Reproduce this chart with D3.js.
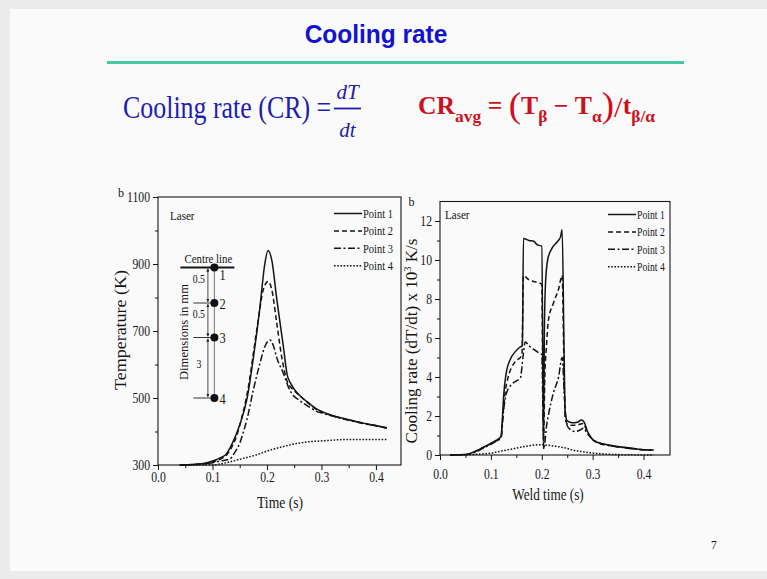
<!DOCTYPE html>
<html>
<head>
<meta charset="utf-8">
<script src="https://cdn.jsdelivr.net/npm/d3@7"></script>
<style>
body { margin: 0; background: #fff; }
svg text { font-family: "Liberation Serif", "Times New Roman", serif; fill: #161616; }
</style>
</head>
<body>
<script>
// ---- data ----
var seriesNames = ["Point 1", "Point 2", "Point 3", "Point 4"];

// left chart: temperature (K) vs time (s)
var timeP1 = [0.04,0.07,0.09,0.10,0.115,0.126,0.135,0.144,0.150,0.163,0.175,0.187,0.196,0.202,0.209,0.218,0.230,0.237,0.243,0.254,0.265,0.279,0.290,0.303,0.320,0.346,0.377,0.400,0.420];
var tempP1 = [300,302,307,312,322,334,360,393,420,495,620,770,900,940,910,795,655,570,545,518,500,482,468,458,448,437,425,418,411];
var timeP2 = [0.04,0.09,0.10,0.115,0.126,0.135,0.145,0.155,0.166,0.175,0.184,0.193,0.202,0.209,0.218,0.227,0.237,0.245,0.254,0.265,0.279,0.290,0.303,0.320,0.346,0.377,0.400,0.420];
var tempP2 = [300,305,309,318,330,352,390,450,534,633,733,822,848,822,723,623,550,530,516,500,480,467,457,447,436,424,417,410];
var timeP3 = [0.04,0.09,0.10,0.115,0.132,0.140,0.150,0.157,0.163,0.175,0.187,0.196,0.2055,0.212,0.218,0.230,0.239,0.248,0.258,0.267,0.279,0.291,0.303,0.320,0.346,0.377,0.400,0.420];
var tempP3 = [300,304,307,312,318,335,365,400,434,524,603,653,673,655,620,574,534,508,495,484,472,460,454,446,435,424,417,410];
var timeP4 = [0.04,0.10,0.12,0.15,0.18,0.205,0.23,0.254,0.275,0.291,0.32,0.34,0.38,0.42];
var tempP4 = [300,300,305,317,330,344,355,364,369,371,374,376,376,376];

// right chart: cooling rate (x 10^3 K/s) vs weld time (s)
var rTimeP1 = [0.02,0.05,0.07,0.085,0.10,0.11,0.12,0.122,0.125,0.13,0.138,0.148,0.158,0.162,0.164,0.175,0.185,0.19,0.20,0.2035,0.205,0.207,0.2115,0.22,0.231,0.237,0.240,0.244,0.246,0.25,0.26,0.27,0.278,0.283,0.29,0.30,0.315,0.335,0.36,0.39,0.42];
var rateP1  = [0,0.02,0.2,0.4,0.6,0.75,0.95,1.6,3.0,4.2,4.9,5.3,5.55,5.6,11.1,11.0,10.95,10.8,10.7,0.7,6.0,8.6,10.0,10.6,10.95,11.2,11.55,5.0,2.2,1.75,1.65,1.68,1.8,1.7,1.2,0.8,0.6,0.5,0.4,0.3,0.25];
var rTimeP2 = [0.02,0.05,0.07,0.085,0.10,0.11,0.12,0.123,0.127,0.134,0.141,0.151,0.158,0.161,0.164,0.174,0.184,0.197,0.20,0.2035,0.206,0.209,0.213,0.223,0.233,0.240,0.244,0.246,0.25,0.26,0.27,0.281,0.29,0.30,0.315,0.335,0.36,0.39,0.42];
var rateP2  = [0,0.02,0.18,0.38,0.58,0.72,0.9,1.8,3.0,4.0,4.5,4.87,5.0,5.2,9.2,9.0,8.9,8.8,8.75,0.7,4.0,5.5,6.9,7.8,8.5,9.2,4.0,1.9,1.6,1.52,1.54,1.62,1.15,0.78,0.58,0.48,0.38,0.29,0.24];
var rTimeP3 = [0.02,0.05,0.07,0.085,0.10,0.11,0.12,0.125,0.131,0.14,0.15,0.158,0.163,0.1675,0.175,0.185,0.197,0.20,0.204,0.206,0.209,0.2135,0.223,0.233,0.240,0.2445,0.2485,0.256,0.266,0.275,0.282,0.287,0.296,0.31,0.33,0.36,0.39,0.42];
var rateP3  = [0,0.02,0.15,0.35,0.55,0.7,0.88,2.3,3.2,3.6,3.8,3.95,5.0,5.8,5.6,5.4,5.2,5.15,0.3,0.6,1.4,2.1,3.2,4.0,5.0,3.0,1.6,1.3,1.2,1.28,1.37,1.2,0.9,0.65,0.5,0.38,0.29,0.24];
var rTimeP4 = [0.02,0.06,0.08,0.10,0.12,0.14,0.17,0.197,0.223,0.245,0.262,0.28,0.30,0.33,0.37,0.42];
var rateP4  = [0,0.02,0.05,0.1,0.2,0.3,0.45,0.53,0.46,0.37,0.25,0.17,0.1,0.04,0.01,0];

var timeTicks = [0, 0.1, 0.2, 0.3, 0.4];
var timeMinor = [0.05, 0.15, 0.25, 0.35];
var tempTicks = [300, 500, 700, 900, 1100];
var tempMinor = [400, 600, 800, 1000];
var rateTicks = [0, 2, 4, 6, 8, 10, 12];
var rateMinor = [1, 3, 5, 7, 9, 11];

// inset sketch: depth of the four points below the centre line (mm)
var insetDepth = [0, 0.5, 1, 4];
var insetNames = ["1", "2", "3", "4"];
var insetGaps = ["0.5", "0.5", "3"];

var dashes = [null, "5,3", "7,2.5,2,2.5", "1.6,1.6"];

// ---- page ----
var svg = d3.select("body").append("svg")
  .attr("width", 767)
  .attr("height", 579);

svg.append("rect").attr("width", 767).attr("height", 579).attr("fill", "#ececec");
svg.append("rect").attr("x", 10).attr("y", 9).attr("width", 757).attr("height", 562).attr("fill", "#fafafa");

function label(parent, str, x, y, size, k, anchor) {
  return parent.append("text")
    .attr("transform", "translate(" + x + "," + y + ") scale(" + k + ",1)")
    .attr("font-size", size)
    .attr("text-anchor", anchor || "start")
    .text(str);
}

// title and rule
label(svg, "Cooling rate", 376, 43, 25.5, 0.96, "middle")
  .attr("font-weight", "bold")
  .style("font-family", "'Liberation Sans', Arial, sans-serif")
  .style("fill", "#1212cf");

svg.append("line")
  .attr("x1", 107).attr("x2", 684).attr("y1", 62.5).attr("y2", 62.5)
  .attr("stroke", "#45c9a3").attr("stroke-width", 3);

// blue definition
var blue = "#1e1eae";
label(svg, "Cooling rate (CR) =", 123, 118, 32, 0.81).style("fill", blue);
svg.append("text").attr("x", 347.5).attr("y", 99).attr("text-anchor", "middle")
  .attr("font-size", 21).attr("font-style", "italic").style("fill", blue).text("dT");
svg.append("line").attr("x1", 334).attr("x2", 361).attr("y1", 108.5).attr("y2", 108.5)
  .attr("stroke", blue).attr("stroke-width", 1.8);
svg.append("text").attr("x", 347.5).attr("y", 137).attr("text-anchor", "middle")
  .attr("font-size", 21).attr("font-style", "italic").style("fill", blue).text("dt");

// red average formula
var red = svg.append("text")
  .attr("x", 418).attr("y", 113.5)
  .attr("font-size", 25).attr("font-weight", "bold")
  .style("fill", "#cc1020")
  .attr("textLength", 237).attr("lengthAdjust", "spacingAndGlyphs");
red.append("tspan").text("CR");
red.append("tspan").attr("font-size", 17).attr("dy", 8).text("avg");
red.append("tspan").attr("dy", -8).text(" = ");
red.append("tspan").attr("font-size", 36).attr("font-weight", "normal").attr("dy", 3).text("(");
red.append("tspan").attr("dy", -3).text("T");
red.append("tspan").attr("font-size", 17).attr("dy", 8).text("β");
red.append("tspan").attr("dy", -8).text(" − T");
red.append("tspan").attr("font-size", 17).attr("dy", 8).text("α");
red.append("tspan").attr("font-size", 36).attr("font-weight", "normal").attr("dy", -5).text(")");
red.append("tspan").attr("font-size", 30).attr("font-weight", "normal").text("/");
red.append("tspan").attr("dy", -3).text("t");
red.append("tspan").attr("font-size", 17).attr("dy", 8).text("β/α");

// page number
label(svg, "7", 714, 549, 13, 0.9, "middle");

// ---- charts ----
function squeezeTicks(g, k) {
  g.selectAll(".tick text").each(function() {
    var t = d3.select(this), x = +t.attr("x") || 0;
    t.attr("x", 0).attr("transform", "translate(" + x + ",0) scale(" + k + ",1)");
  });
}

function drawChart(c) {
  var g = svg.append("g");
  var x = c.x, y = c.y;
  var x0 = x.range()[0], x1 = x.range()[1], y0 = y.range()[0], y1 = y.range()[1];

  var gx = g.append("g").attr("transform", "translate(0," + y0 + ")")
    .call(d3.axisBottom(x).tickValues(timeTicks).tickSize(5).tickPadding(c.xPad)
      .tickFormat(d3.format(".1f")));
  g.append("g").attr("transform", "translate(0," + y0 + ")")
    .call(d3.axisBottom(x).tickValues(timeMinor).tickSize(3).tickFormat(""));
  var gy = g.append("g").attr("transform", "translate(" + x0 + ",0)")
    .call(d3.axisLeft(y).tickValues(c.yTicks).tickSize(5).tickPadding(3)
      .tickFormat(d3.format("d")));
  g.append("g").attr("transform", "translate(" + x0 + ",0)")
    .call(d3.axisLeft(y).tickValues(c.yMinor).tickSize(3).tickFormat(""));

  g.selectAll(".domain").remove();
  g.selectAll(".tick line").attr("stroke", "#161616");
  [gx, gy].forEach(function(a) {
    a.attr("font-family", null).attr("font-size", 15);
    squeezeTicks(a, 0.78);
  });

  g.append("rect")
    .attr("x", x0).attr("y", y1)
    .attr("width", x1 - x0).attr("height", y0 - y1)
    .attr("fill", "none").attr("stroke", "#161616").attr("stroke-width", 1.1);

  var line = d3.line()
    .x(function(d) { return x(d[0]); })
    .y(function(d) { return y(d[1]); })
    .curve(d3.curveMonotoneX);

  c.series.forEach(function(s, i) {
    g.append("path")
      .datum(d3.zip(s[0], s[1]))
      .attr("d", line)
      .attr("fill", "none")
      .attr("stroke", "#141414")
      .attr("stroke-width", 1.5)
      .attr("stroke-dasharray", dashes[i]);
  });

  // legend
  seriesNames.forEach(function(name, i) {
    var ly = c.legY + i * 17.4;
    g.append("line")
      .attr("x1", c.legX).attr("x2", c.legX + 28)
      .attr("y1", ly).attr("y2", ly)
      .attr("stroke", "#141414").attr("stroke-width", 1.5)
      .attr("stroke-dasharray", dashes[i]);
    label(g, name, c.legX + 29, ly + 4.5, 13.5, c.legK);
  });

  label(g, "Laser", c.laserX, c.laserY, 13.5, 0.82);
  label(g, "b", c.bX, c.bY, 13.5, 0.9);
  return g;
}

var xL = d3.scaleLinear().domain([0, 0.446]).range([158, 401]);
var yL = d3.scaleLinear().domain([300, 1100]).range([465, 197]);
var xR = d3.scaleLinear().domain([0, 0.452]).range([440, 670]);
var yR = d3.scaleLinear().domain([0, 13]).range([455, 201.5]);

var left = drawChart({
  x: xL, y: yL, yTicks: tempTicks, yMinor: tempMinor, xPad: 1,
  series: [[timeP1, tempP1], [timeP2, tempP2], [timeP3, tempP3], [timeP4, tempP4]],
  legX: 334, legY: 213.5, legK: 0.78,
  laserX: 170, laserY: 219.5, bX: 118, bY: 197
});

var right = drawChart({
  x: xR, y: yR, yTicks: rateTicks, yMinor: rateMinor, xPad: 8,
  series: [[rTimeP1, rateP1], [rTimeP2, rateP2], [rTimeP3, rateP3], [rTimeP4, rateP4]],
  legX: 608, legY: 214.5, legK: 0.72,
  laserX: 445, laserY: 218.5, bX: 408.5, bY: 206
});

// axis titles
label(left, "Time (s)", 280, 508, 17, 0.8, "middle");
label(right, "Weld time (s)", 548, 499.5, 16.5, 0.8, "middle");

left.append("text")
  .attr("transform", "translate(126,330) rotate(-90)")
  .attr("text-anchor", "middle")
  .attr("font-size", 17.5)
  .attr("textLength", 120).attr("lengthAdjust", "spacingAndGlyphs")
  .text("Temperature (K)");

var rt = right.append("text")
  .attr("transform", "translate(417,341) rotate(-90)")
  .attr("text-anchor", "middle")
  .attr("font-size", 16.5)
  .attr("textLength", 205).attr("lengthAdjust", "spacingAndGlyphs");
rt.append("tspan").text("Cooling rate (dT/dt) x 10");
rt.append("tspan").attr("font-size", 10).attr("dy", -6).text("3");
rt.append("tspan").attr("dy", 6).text(" K/s");

// ---- inset sketch (schematic, not to scale) ----
var depthY = d3.scaleLinear().domain(insetDepth).range([267.5, 303, 337.5, 398]);
var dotX = xL(0.1035), dimX = dotX - 6.5;
var ins = left.append("g");

svg.append("defs").append("marker")
  .attr("id", "arr").attr("viewBox", "0 0 6 6").attr("refX", 6).attr("refY", 3)
  .attr("markerWidth", 4).attr("markerHeight", 4).attr("orient", "auto-start-reverse")
  .append("path").attr("d", "M0,0L6,3L0,6Z").attr("fill", "#222");

ins.append("line")
  .attr("x1", dotX).attr("x2", dotX)
  .attr("y1", depthY(0)).attr("y2", depthY(4))
  .attr("stroke", "#8a8a8a").attr("stroke-width", 1.2);

ins.append("line")
  .attr("x1", dotX - 34).attr("x2", dotX + 20)
  .attr("y1", depthY(0)).attr("y2", depthY(0))
  .attr("stroke", "#161616").attr("stroke-width", 2);
label(ins, "Centre line", dotX - 6, depthY(0) - 5, 13.5, 0.8, "middle");

insetDepth.slice(1).forEach(function(d) {
  ins.append("line")
    .attr("x1", dotX - 21).attr("x2", dotX)
    .attr("y1", depthY(d)).attr("y2", depthY(d))
    .attr("stroke", "#333").attr("stroke-width", 1);
});

insetDepth.slice(1).forEach(function(d, i) {
  var a = depthY(insetDepth[i]) + 1, b = depthY(d) - 1;
  ins.append("line")
    .attr("x1", dimX).attr("x2", dimX).attr("y1", a).attr("y2", b)
    .attr("stroke", "#222").attr("stroke-width", 0.8)
    .attr("marker-start", "url(#arr)").attr("marker-end", "url(#arr)");
  label(ins, insetGaps[i], dimX - 9, (a + b) / 2 + (i < 2 ? -2 : 0), 11.5, 0.85, "middle");
});

ins.selectAll("circle.pt")
  .data(insetDepth)
  .enter().append("circle")
  .attr("cx", dotX).attr("cy", function(d) { return depthY(d); })
  .attr("r", 4).attr("fill", "#111");

insetDepth.forEach(function(d, i) {
  label(ins, insetNames[i], dotX + 5, depthY(d) + (i === 0 ? 12 : 5.5), 15.5, 0.8);
});

ins.append("text")
  .attr("transform", "translate(187.5,332) rotate(-90)")
  .attr("text-anchor", "middle")
  .attr("font-size", 12.5)
  .attr("textLength", 96).attr("lengthAdjust", "spacingAndGlyphs")
  .text("Dimensions in mm");
</script>
</body>
</html>
